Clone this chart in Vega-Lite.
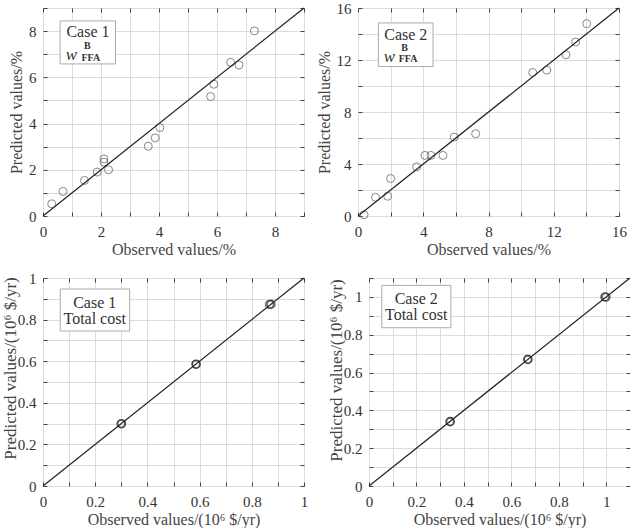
{
  "$schema": "https://vega.github.io/schema/vega-lite/v6.json",
  "padding": {"left": 0, "top": 0, "right": 0, "bottom": 0},
  "background": "white",
  "config": {
    "font": "Liberation Serif",
    "view": {"stroke": "#444", "strokeWidth": 1},
    "axis": {
      "grid": true, "gridColor": "#dcdcdc", "gridWidth": 1,
      "domain": false, "ticks": true, "tickColor": "#444", "tickSize": -4,
      "labelFontSize": 15, "labelColor": "#333", "labelFlush": false,
      "titleFontSize": 16, "titleColor": "#444", "titleFontWeight": "normal",
      "minExtent": 0
    },
    "axisX": {"labelPadding": 12, "titlePadding": 2},
    "axisY": {"labelPadding": 11, "titlePadding": 4, "minExtent": 0},
    "concat": {"spacing": 13}
  },
  "spacing": 12,
  "vconcat": [
    {
      "spacing": 8,
      "hconcat": [
        {
          "width": 261, "height": 208,
          "resolve": {"axis": {"x": "independent", "y": "independent"}},
          "layer": [
            {
              "data": {"values": [
                {"obs": 0.30, "pred": 0.53}, {"obs": 0.69, "pred": 1.06}, {"obs": 1.43, "pred": 1.54},
                {"obs": 1.87, "pred": 1.90}, {"obs": 2.10, "pred": 2.47}, {"obs": 2.10, "pred": 2.33},
                {"obs": 2.26, "pred": 2.00}, {"obs": 3.63, "pred": 3.02}, {"obs": 3.87, "pred": 3.38},
                {"obs": 4.03, "pred": 3.83}, {"obs": 5.78, "pred": 5.17}, {"obs": 5.89, "pred": 5.70},
                {"obs": 6.47, "pred": 6.65}, {"obs": 6.76, "pred": 6.53}, {"obs": 7.29, "pred": 8.01}
              ]},
              "mark": {"type": "point", "shape": "circle", "filled": false, "stroke": "#555", "strokeWidth": 1, "size": 64},
              "encoding": {
                "x": {"field": "obs", "type": "quantitative", "scale": {"domain": [0, 9], "nice": false},
                  "axis": {"title": "Observed values/%", "values": [0,1,2,3,4,5,6,7,8,9], "labelExpr": "datum.value % 2 == 0 ? format(datum.value, '') : ''"}},
                "y": {"field": "pred", "type": "quantitative", "scale": {"domain": [0, 9], "nice": false},
                  "axis": {"title": "Predicted values/%", "values": [0,1,2,3,4,5,6,7,8,9], "labelExpr": "datum.value % 2 == 0 ? format(datum.value, '') : ''"}}
              }
            },
            {
              "data": {"values": [{"obs": 0, "pred": 0}, {"obs": 9, "pred": 9}]},
              "mark": {"type": "line", "color": "#222", "strokeWidth": 1.2},
              "encoding": {
                "x": {"field": "obs", "type": "quantitative", "axis": {"orient": "top", "title": null, "labels": false, "grid": false, "maxExtent": 0, "values": [0,1,2,3,4,5,6,7,8,9]}},
                "y": {"field": "pred", "type": "quantitative", "axis": {"orient": "right", "title": null, "labels": false, "grid": false, "maxExtent": 0, "values": [0,1,2,3,4,5,6,7,8,9]}}
              }
            },
            {
              "data": {"values": [{"x1": 0.59, "x2": 2.50, "y1": 6.58, "y2": 8.44}]},
              "mark": {"type": "rect", "fill": "white", "stroke": "#aaa", "strokeWidth": 1},
              "encoding": {
                "x": {"field": "x1", "type": "quantitative", "axis": null}, "x2": {"field": "x2"},
                "y": {"field": "y1", "type": "quantitative", "axis": null}, "y2": {"field": "y2"}
              }
            },
            {
              "data": {"values": [{"x": 1.55, "y": 7.96, "t": "Case 1"}]},
              "mark": {"type": "text", "fontSize": 16, "color": "#333", "align": "center", "baseline": "middle"},
              "encoding": {"x": {"field": "x", "type": "quantitative", "axis": null}, "y": {"field": "y", "type": "quantitative", "axis": null}, "text": {"field": "t"}}
            },
            {
              "data": {"values": [{"x": 0.98, "y": 6.95, "t": "w"}]},
              "mark": {"type": "text", "fontSize": 17, "fontStyle": "italic", "color": "#333", "align": "center", "baseline": "middle"},
              "encoding": {"x": {"field": "x", "type": "quantitative", "axis": null}, "y": {"field": "y", "type": "quantitative", "axis": null}, "text": {"field": "t"}}
            },
            {
              "data": {"values": [{"x": 1.53, "y": 7.37, "t": "B"}, {"x": 1.65, "y": 6.83, "t": "FFA"}]},
              "mark": {"type": "text", "fontSize": 10, "fontWeight": "bold", "color": "#333", "align": "center", "baseline": "middle"},
              "encoding": {"x": {"field": "x", "type": "quantitative", "axis": null}, "y": {"field": "y", "type": "quantitative", "axis": null}, "text": {"field": "t"}}
            }
          ]
        },
        {
          "width": 261, "height": 208,
          "resolve": {"axis": {"x": "independent", "y": "independent"}},
          "layer": [
            {
              "data": {"values": [
                {"obs": 0.37, "pred": 0.10}, {"obs": 1.08, "pred": 1.44}, {"obs": 1.82, "pred": 1.52},
                {"obs": 2.00, "pred": 2.88}, {"obs": 3.60, "pred": 3.78}, {"obs": 4.11, "pred": 4.66},
                {"obs": 4.47, "pred": 4.66}, {"obs": 5.21, "pred": 4.66}, {"obs": 5.90, "pred": 6.07},
                {"obs": 7.21, "pred": 6.33}, {"obs": 10.71, "pred": 11.04}, {"obs": 11.57, "pred": 11.22},
                {"obs": 12.75, "pred": 12.40}, {"obs": 13.34, "pred": 13.38}, {"obs": 14.02, "pred": 14.79}
              ]},
              "mark": {"type": "point", "shape": "circle", "filled": false, "stroke": "#555", "strokeWidth": 1, "size": 64},
              "encoding": {
                "x": {"field": "obs", "type": "quantitative", "scale": {"domain": [0, 16], "nice": false},
                  "axis": {"title": "Observed values/%", "values": [0,2,4,6,8,10,12,14,16], "labelExpr": "datum.value % 4 == 0 ? format(datum.value, '') : ''"}},
                "y": {"field": "pred", "type": "quantitative", "scale": {"domain": [0, 16], "nice": false},
                  "axis": {"title": "Predicted values/%", "values": [0,2,4,6,8,10,12,14,16], "labelExpr": "datum.value % 4 == 0 ? format(datum.value, '') : ''"}}
              }
            },
            {
              "data": {"values": [{"obs": 0, "pred": 0}, {"obs": 16, "pred": 16}]},
              "mark": {"type": "line", "color": "#222", "strokeWidth": 1.2},
              "encoding": {
                "x": {"field": "obs", "type": "quantitative", "axis": {"orient": "top", "title": null, "labels": false, "grid": false, "maxExtent": 0, "values": [0,2,4,6,8,10,12,14,16]}},
                "y": {"field": "pred", "type": "quantitative", "axis": {"orient": "right", "title": null, "labels": false, "grid": false, "maxExtent": 0, "values": [0,2,4,6,8,10,12,14,16]}}
              }
            },
            {
              "data": {"values": [{"x1": 1.25, "x2": 4.60, "y1": 11.5, "y2": 14.85}]},
              "mark": {"type": "rect", "fill": "white", "stroke": "#aaa", "strokeWidth": 1},
              "encoding": {
                "x": {"field": "x1", "type": "quantitative", "axis": null}, "x2": {"field": "x2"},
                "y": {"field": "y1", "type": "quantitative", "axis": null}, "y2": {"field": "y2"}
              }
            },
            {
              "data": {"values": [{"x": 2.93, "y": 13.92, "t": "Case 2"}]},
              "mark": {"type": "text", "fontSize": 16, "color": "#333", "align": "center", "baseline": "middle"},
              "encoding": {"x": {"field": "x", "type": "quantitative", "axis": null}, "y": {"field": "y", "type": "quantitative", "axis": null}, "text": {"field": "t"}}
            },
            {
              "data": {"values": [{"x": 1.93, "y": 12.25, "t": "w"}]},
              "mark": {"type": "text", "fontSize": 17, "fontStyle": "italic", "color": "#333", "align": "center", "baseline": "middle"},
              "encoding": {"x": {"field": "x", "type": "quantitative", "axis": null}, "y": {"field": "y", "type": "quantitative", "axis": null}, "text": {"field": "t"}}
            },
            {
              "data": {"values": [{"x": 2.86, "y": 12.95, "t": "B"}, {"x": 3.07, "y": 12.08, "t": "FFA"}]},
              "mark": {"type": "text", "fontSize": 10, "fontWeight": "bold", "color": "#333", "align": "center", "baseline": "middle"},
              "encoding": {"x": {"field": "x", "type": "quantitative", "axis": null}, "y": {"field": "y", "type": "quantitative", "axis": null}, "text": {"field": "t"}}
            }
          ]
        }
      ]
    },
    {
      "spacing": 17,
      "hconcat": [
        {
          "width": 261, "height": 208,
          "resolve": {"axis": {"x": "independent", "y": "independent"}},
          "layer": [
            {
              "data": {"values": [
                {"obs": 0.299, "pred": 0.299}, {"obs": 0.301, "pred": 0.300},
                {"obs": 0.586, "pred": 0.586}, {"obs": 0.587, "pred": 0.585},
                {"obs": 0.868, "pred": 0.873}, {"obs": 0.874, "pred": 0.874}
              ]},
              "mark": {"type": "point", "shape": "circle", "filled": false, "stroke": "#333", "strokeWidth": 1.6, "size": 60},
              "encoding": {
                "x": {"field": "obs", "type": "quantitative", "scale": {"domain": [0, 1], "nice": false},
                  "axis": {"title": "Observed values/(10⁶ $/yr)", "values": [0,0.1,0.2,0.3,0.4,0.5,0.6,0.7,0.8,0.9,1], "labelExpr": "round(datum.value*10) % 2 == 0 ? format(datum.value, '') : ''"}},
                "y": {"field": "pred", "type": "quantitative", "scale": {"domain": [0, 1], "nice": false},
                  "axis": {"title": "Predicted values/(10⁶ $/yr)", "titlePadding": -2, "titleFontSize": 17, "titleY": 90, "values": [0,0.1,0.2,0.3,0.4,0.5,0.6,0.7,0.8,0.9,1], "labelExpr": "round(datum.value*10) % 2 == 0 ? format(datum.value, '') : ''"}}
              }
            },
            {
              "data": {"values": [{"obs": 0, "pred": 0}, {"obs": 1, "pred": 1}]},
              "mark": {"type": "line", "color": "#222", "strokeWidth": 1.2},
              "encoding": {
                "x": {"field": "obs", "type": "quantitative", "axis": {"orient": "top", "title": null, "labels": false, "grid": false, "maxExtent": 0, "values": [0,0.1,0.2,0.3,0.4,0.5,0.6,0.7,0.8,0.9,1]}},
                "y": {"field": "pred", "type": "quantitative", "axis": {"orient": "right", "title": null, "labels": false, "grid": false, "maxExtent": 0, "values": [0,0.1,0.2,0.3,0.4,0.5,0.6,0.7,0.8,0.9,1]}}
              }
            },
            {
              "data": {"values": [{"x1": 0.066, "x2": 0.332, "y1": 0.745, "y2": 0.947}]},
              "mark": {"type": "rect", "fill": "white", "stroke": "#aaa", "strokeWidth": 1},
              "encoding": {
                "x": {"field": "x1", "type": "quantitative", "axis": null}, "x2": {"field": "x2"},
                "y": {"field": "y1", "type": "quantitative", "axis": null}, "y2": {"field": "y2"}
              }
            },
            {
              "data": {"values": [{"x": 0.198, "y": 0.881, "t": "Case 1"}, {"x": 0.198, "y": 0.801, "t": "Total cost"}]},
              "mark": {"type": "text", "fontSize": 16, "color": "#333", "align": "center", "baseline": "middle"},
              "encoding": {"x": {"field": "x", "type": "quantitative", "axis": null}, "y": {"field": "y", "type": "quantitative", "axis": null}, "text": {"field": "t"}}
            }
          ]
        },
        {
          "width": 261, "height": 208,
          "resolve": {"axis": {"x": "independent", "y": "independent"}},
          "layer": [
            {
              "data": {"values": [
                {"obs": 0.341, "pred": 0.340}, {"obs": 0.343, "pred": 0.341},
                {"obs": 0.669, "pred": 0.670}, {"obs": 0.670, "pred": 0.669},
                {"obs": 0.994, "pred": 1.0}, {"obs": 0.999, "pred": 0.999}
              ]},
              "mark": {"type": "point", "shape": "circle", "filled": false, "stroke": "#333", "strokeWidth": 1.6, "size": 60},
              "encoding": {
                "x": {"field": "obs", "type": "quantitative", "scale": {"domain": [0, 1.1], "nice": false},
                  "axis": {"title": "Observed values/(10⁶ $/yr)", "values": [0,0.1,0.2,0.3,0.4,0.5,0.6,0.7,0.8,0.9,1,1.1], "labelExpr": "round(datum.value*10) % 2 == 0 ? format(datum.value, '') : ''"}},
                "y": {"field": "pred", "type": "quantitative", "scale": {"domain": [0, 1.1], "nice": false},
                  "axis": {"title": "Predicted values/(10⁶ $/yr)", "titlePadding": -2, "titleFontSize": 17, "titleY": 92, "values": [0,0.1,0.2,0.3,0.4,0.5,0.6,0.7,0.8,0.9,1,1.1], "labelExpr": "round(datum.value*10) % 2 == 0 ? format(datum.value, '') : ''"}}
              }
            },
            {
              "data": {"values": [{"obs": 0, "pred": 0}, {"obs": 1.1, "pred": 1.1}]},
              "mark": {"type": "line", "color": "#222", "strokeWidth": 1.2},
              "encoding": {
                "x": {"field": "obs", "type": "quantitative", "axis": {"orient": "top", "title": null, "labels": false, "grid": false, "maxExtent": 0, "values": [0,0.1,0.2,0.3,0.4,0.5,0.6,0.7,0.8,0.9,1,1.1]}},
                "y": {"field": "pred", "type": "quantitative", "axis": {"orient": "right", "title": null, "labels": false, "grid": false, "maxExtent": 0, "values": [0,0.1,0.2,0.3,0.4,0.5,0.6,0.7,0.8,0.9,1,1.1]}}
              }
            },
            {
              "data": {"values": [{"x1": 0.054, "x2": 0.345, "y1": 0.837, "y2": 1.061}]},
              "mark": {"type": "rect", "fill": "white", "stroke": "#aaa", "strokeWidth": 1},
              "encoding": {
                "x": {"field": "x1", "type": "quantitative", "axis": null}, "x2": {"field": "x2"},
                "y": {"field": "y1", "type": "quantitative", "axis": null}, "y2": {"field": "y2"}
              }
            },
            {
              "data": {"values": [{"x": 0.199, "y": 0.991, "t": "Case 2"}, {"x": 0.199, "y": 0.904, "t": "Total cost"}]},
              "mark": {"type": "text", "fontSize": 16, "color": "#333", "align": "center", "baseline": "middle"},
              "encoding": {"x": {"field": "x", "type": "quantitative", "axis": null}, "y": {"field": "y", "type": "quantitative", "axis": null}, "text": {"field": "t"}}
            }
          ]
        }
      ]
    }
  ]
}
